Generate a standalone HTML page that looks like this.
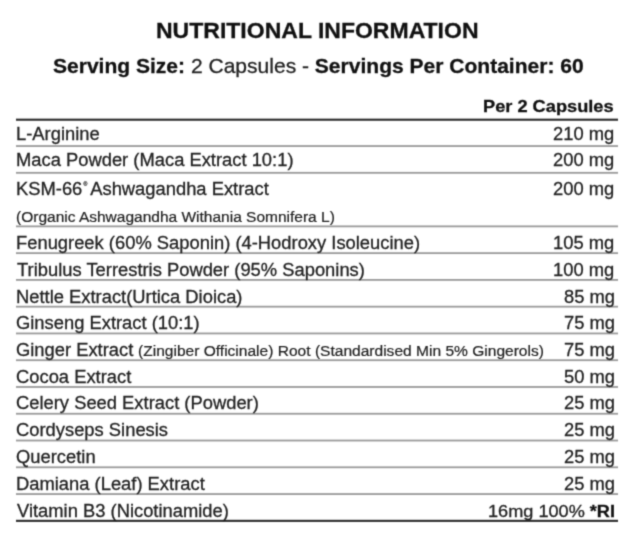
<!DOCTYPE html>
<html lang='en'><head><meta charset='utf-8'><title>Nutritional Information</title>
<style>html,body{margin:0;padding:0;background:#fff;}
body{width:635px;height:539px;position:relative;overflow:hidden;font-family:'Liberation Sans', sans-serif;color:#222;filter:url(#soft);}
.t{position:absolute;white-space:nowrap;line-height:1;transform-origin:0 0;-webkit-text-stroke:0.28px currentColor;}
.ln{position:absolute;}
.sm{font-size:14.0px;-webkit-text-stroke:0.2px currentColor;}
.reg{font-size:5px;position:relative;top:-9.5px;margin:0 2.8px 0 1.1px;color:#444;-webkit-text-stroke:0.25px #444;}
b{color:#111;}
</style></head><body>
<svg class='ln' style='left:0;top:0' width='635' height='539' viewBox='0 0 635 539'>
<defs><filter id='soft' x='0' y='0' width='100%' height='100%' color-interpolation-filters='sRGB'><feConvolveMatrix order='3' kernelMatrix='0.0277 0.111 0.0277 0.111 0.445 0.111 0.0277 0.111 0.0277' divisor='1.0008' edgeMode='duplicate' preserveAlpha='true'/></filter></defs>
<rect x='16' y='118.65' width='602' height='2.1' fill='#2a2a2a'/>
<rect x='16' y='145.15' width='602' height='1.8' fill='#9a9a9a'/>
<rect x='16' y='171.92' width='602' height='1.8' fill='#9a9a9a'/>
<rect x='16' y='225.46' width='602' height='1.8' fill='#9a9a9a'/>
<rect x='16' y='252.23' width='602' height='1.8' fill='#9a9a9a'/>
<rect x='16' y='279.00' width='602' height='1.8' fill='#9a9a9a'/>
<rect x='16' y='305.77' width='602' height='1.8' fill='#9a9a9a'/>
<rect x='16' y='332.54' width='602' height='1.8' fill='#9a9a9a'/>
<rect x='16' y='359.31' width='602' height='1.8' fill='#9a9a9a'/>
<rect x='16' y='386.08' width='602' height='1.8' fill='#9a9a9a'/>
<rect x='16' y='412.85' width='602' height='1.8' fill='#9a9a9a'/>
<rect x='16' y='439.62' width='602' height='1.8' fill='#9a9a9a'/>
<rect x='16' y='466.39' width='602' height='1.8' fill='#9a9a9a'/>
<rect x='16' y='493.16' width='602' height='1.8' fill='#9a9a9a'/>
<rect x='16' y='519.80' width='602' height='2.1' fill='#2a2a2a'/>
</svg>
<div class='t' style='left:155.93px;top:21px;font-size:21.5px;color:#111;font-weight:bold;transform:scaleX(1.0702);'>NUTRITIONAL INFORMATION</div>
<div class='t' style='left:52.50px;top:55px;font-size:21.0px;color:#222;transform:scaleX(1.0015);'><b>Serving Size:</b> 2 Capsules - <b>Servings Per Container: 60</b></div>
<div class='t' style='left:483.47px;top:98px;font-size:16.2px;color:#111;font-weight:bold;transform:scaleX(1.1252);'>Per 2 Capsules</div>
<div class='t' style='left:15.66px;top:126px;font-size:17.6px;color:#222;transform:scaleX(1.0434);'>L-Arginine</div>
<div class='t' style='left:553.48px;top:126px;font-size:17.6px;color:#222;transform:scaleX(1.0434);'>210 mg</div>
<div class='t' style='left:15.66px;top:152px;font-size:17.6px;color:#222;transform:scaleX(1.0434);'>Maca Powder (Maca Extract 10:1)</div>
<div class='t' style='left:553.48px;top:152px;font-size:17.6px;color:#222;transform:scaleX(1.0434);'>200 mg</div>
<div class='t' style='left:15.66px;top:181px;font-size:17.6px;color:#222;transform:scaleX(1.0434);'>KSM-66<span class=reg>®</span>Ashwagandha Extract</div>
<div class='t' style='left:553.48px;top:181px;font-size:17.6px;color:#222;transform:scaleX(1.0434);'>200 mg</div>
<div class='t' style='left:15.89px;top:208px;font-size:17.6px;color:#222;transform:scaleX(1.1073);'><span class=sm>(Organic Ashwagandha Withania Somnifera L)</span></div>
<div class='t' style='left:15.66px;top:235px;font-size:17.6px;color:#222;transform:scaleX(1.0434);'>Fenugreek (60% Saponin) (4-Hodroxy Isoleucine)</div>
<div class='t' style='left:553.48px;top:235px;font-size:17.6px;color:#222;transform:scaleX(1.0434);'>105 mg</div>
<div class='t' style='left:16.70px;top:262px;font-size:17.6px;color:#222;transform:scaleX(1.0434);'>Tribulus Terrestris Powder (95% Saponins)</div>
<div class='t' style='left:553.48px;top:262px;font-size:17.6px;color:#222;transform:scaleX(1.0434);'>100 mg</div>
<div class='t' style='left:15.66px;top:289px;font-size:17.6px;color:#222;transform:scaleX(1.0434);'>Nettle Extract(Urtica Dioica)</div>
<div class='t' style='left:563.92px;top:289px;font-size:17.6px;color:#222;transform:scaleX(1.0434);'>85 mg</div>
<div class='t' style='left:15.66px;top:315px;font-size:17.6px;color:#222;transform:scaleX(1.0434);'>Ginseng Extract (10:1)</div>
<div class='t' style='left:563.92px;top:315px;font-size:17.6px;color:#222;transform:scaleX(1.0434);'>75 mg</div>
<div class='t' style='left:15.66px;top:342px;font-size:17.6px;color:#222;transform:scaleX(1.0434);'>Ginger Extract</div>
<div class='t' style='left:138.09px;top:342px;font-size:17.6px;color:#222;transform:scaleX(1.1107);'><span class=sm>(Zingiber Officinale) Root (Standardised Min 5% Gingerols)</span></div>
<div class='t' style='left:563.92px;top:342px;font-size:17.6px;color:#222;transform:scaleX(1.0434);'>75 mg</div>
<div class='t' style='left:15.66px;top:369px;font-size:17.6px;color:#222;transform:scaleX(1.0434);'>Cocoa Extract</div>
<div class='t' style='left:563.92px;top:369px;font-size:17.6px;color:#222;transform:scaleX(1.0434);'>50 mg</div>
<div class='t' style='left:15.66px;top:395px;font-size:17.6px;color:#222;transform:scaleX(1.0434);'>Celery Seed Extract (Powder)</div>
<div class='t' style='left:563.92px;top:395px;font-size:17.6px;color:#222;transform:scaleX(1.0434);'>25 mg</div>
<div class='t' style='left:15.66px;top:422px;font-size:17.6px;color:#222;transform:scaleX(1.0434);'>Cordyseps Sinesis</div>
<div class='t' style='left:563.92px;top:422px;font-size:17.6px;color:#222;transform:scaleX(1.0434);'>25 mg</div>
<div class='t' style='left:15.66px;top:449px;font-size:17.6px;color:#222;transform:scaleX(1.0434);'>Quercetin</div>
<div class='t' style='left:563.92px;top:449px;font-size:17.6px;color:#222;transform:scaleX(1.0434);'>25 mg</div>
<div class='t' style='left:15.66px;top:476px;font-size:17.6px;color:#222;transform:scaleX(1.0434);'>Damiana (Leaf) Extract</div>
<div class='t' style='left:563.92px;top:476px;font-size:17.6px;color:#222;transform:scaleX(1.0434);'>25 mg</div>
<div class='t' style='left:16.70px;top:503px;font-size:17.6px;color:#222;transform:scaleX(1.0434);'>Vitamin B3 (Nicotinamide)</div>
<div class='t' style='left:487.75px;top:504px;font-size:15.8px;color:#222;transform:scaleX(1.1477);'>16mg 100% <b>*RI</b></div>
</body></html>
